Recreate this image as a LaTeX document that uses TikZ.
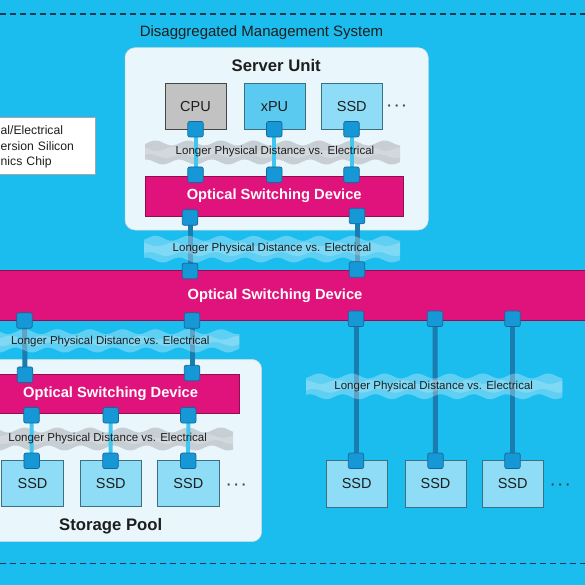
\documentclass[tikz,border=0pt]{standalone}
\usepackage{fontspec}
\setmainfont{Liberation Sans}
\pgfdeclarelayer{fg}
\pgfsetlayers{main,fg}
\definecolor{bgc}{HTML}{1BBCEE}
\definecolor{mag}{HTML}{E0127B}
\definecolor{portc}{HTML}{1798D6}
\definecolor{portd}{HTML}{16679A}
\definecolor{lightln}{HTML}{3FC7F1}
\definecolor{darkln}{HTML}{1A7DB0}
\definecolor{panelc}{HTML}{E9F6FC}
\definecolor{ssdc}{HTML}{8EDCF5}
\definecolor{xpuc}{HTML}{5BCAF0}
\definecolor{cpuc}{HTML}{C2C2C2}
\definecolor{boxd}{HTML}{3D6F82}
\definecolor{grayband}{HTML}{BCC3C7}
\definecolor{txt}{HTML}{1E1E1E}
\definecolor{dashc}{HTML}{1B3A52}
\newcommand\wband[6]{%
  \fill[#5,opacity=#6] plot[domain=#1:#2,samples=90,smooth] (\x,{#3+2.5*sin(11*\x)})
    -- plot[domain=#2:#1,samples=90,smooth] (\x,{#4+2.5*sin(11*\x+100)}) -- cycle;
  \fill[white,opacity=0.2] plot[domain=#1:#2,samples=90,smooth] (\x,{#3+6+2*sin(11*\x+160)})
    -- plot[domain=#2:#1,samples=90,smooth] (\x,{#4-6+2*sin(11*\x+60)}) -- cycle;}
\tikzset{
  port/.style={rectangle,rounded corners=2pt,minimum size=15.5pt,inner sep=0pt,fill=portc,draw=portd,line width=0.7pt},
  lln/.style={lightln,line width=4pt},
  dln/.style={darkln,line width=5pt},
  osd/.style={rectangle,fill=mag,draw=mag!65!black,line width=0.6pt,inner sep=0pt,text=white,font=\bfseries\fontsize{14.7}{16}\selectfont},
  unit/.style={rectangle,draw=boxd,line width=0.7pt,inner sep=0pt,minimum width=61pt,minimum height=46pt,text=txt,font=\fontsize{14.5}{16}\selectfont},
  bandtxt/.style={text=txt,font=\fontsize{11.5}{13}\selectfont,inner sep=0pt},
  panelbox/.style={rectangle,fill=panelc,draw=panelc!88!black,rounded corners=10pt,line width=0.5pt,inner sep=0pt},
  dotstxt/.style={text=txt!85,font=\bfseries\fontsize{13.5}{15}\selectfont,inner sep=0pt},
  titletxt/.style={text=txt,inner sep=0pt},
  dashline/.style={dashc,line width=1.2pt,dash pattern=on 6pt off 4pt}
}
\newcommand\threedots{·\hspace{3pt}·\hspace{3pt}·}
\begin{document}
\begin{tikzpicture}[x=1pt,y=-1pt]
\useasboundingbox (0,0) rectangle (585,585);
\clip (0,0) rectangle (585,585);
\fill[bgc] (0,0) rectangle (585,585);
\draw[dashline] (0,14) -- (585,14);
\draw[dashline] (0,563.3) -- (585,563.3);

\node[titletxt,font=\fontsize{15}{17}\selectfont] (title) at (261.5,33) {Disaggregated Management System};

% panels
\node[panelbox,minimum width=303.3pt,minimum height=182.3pt] (server) at (276.65,138.85) {};
\node[panelbox,minimum width=301.7pt,minimum height=182.4pt] (storage) at (110.85,450.5) {};
\node[titletxt,font=\bfseries\fontsize{16.7}{18}\selectfont] (serverlbl) at (276.2,66) {Server Unit};
\node[titletxt,font=\bfseries\fontsize{16.7}{18}\selectfont] (storagelbl) at (110.7,526) {Storage Pool};

% chip legend (cut by the left edge, as printed)
\node[rectangle,draw=gray!70,fill=white,line width=0.6pt,minimum width=130pt,minimum height=57pt,
      inner sep=0pt] (chip) at (30,145.5) {};
\node[anchor=west,text width=90pt,inner sep=0pt,align=left,text=txt,font=\fontsize{12.2}{15.5}\selectfont] (chiptxt) at (0.5,147)
      {al/Electrical\\ersion Silicon\\nics Chip};

% server devices
\node[unit,fill=cpuc,draw=gray!55!black] (cpu) at (195.5,106.3) {CPU};
\node[unit,fill=xpuc] (xpu) at (274.5,106.3) {xPU};
\node[unit,fill=ssdc] (ssd0) at (351.8,106.3) {SSD};
\node[dotstxt] (dots0) at (397,107.5) {\threedots};

% switching devices
\node[osd,minimum width=258.3pt,minimum height=40pt] (osd1) at (274.2,196) {Optical Switching Device};
\node[osd,minimum width=640pt,minimum height=50.7pt] (osd2) at (275,295.35) {Optical Switching Device};
\node[osd,minimum width=257.3pt,minimum height=39.3pt] (osd3) at (110.65,393.65) {Optical Switching Device};

% storage SSDs
\node[unit,fill=ssdc,minimum width=61.6pt,minimum height=46.7pt] (ssd1) at (32.5,483.3) {SSD};
\node[unit,fill=ssdc,minimum width=61.6pt,minimum height=46.7pt] (ssd2) at (110.8,483.3) {SSD};
\node[unit,fill=ssdc,minimum width=61.6pt,minimum height=46.7pt] (ssd3) at (188.4,483.3) {SSD};
\node[dotstxt] (dots1) at (236.7,486.5) {\threedots};
\node[unit,fill=ssdc,minimum width=61.3pt,minimum height=46.7pt] (ssd4) at (356.7,483.6) {SSD};
\node[unit,fill=ssdc,minimum width=61.3pt,minimum height=46.7pt] (ssd5) at (435.5,483.6) {SSD};
\node[unit,fill=ssdc,minimum width=61.3pt,minimum height=46.7pt] (ssd6) at (512.7,483.6) {SSD};
\node[dotstxt] (dots2) at (560.5,486.5) {\threedots};

% ports
\begin{pgfonlayer}{fg}
\node[port] (s1) at (195.5,129.2) {};
\node[port] (s2) at (274.3,129.2) {};
\node[port] (s3) at (351.5,129.2) {};
\node[port] (t1) at (195.5,174.7) {};
\node[port] (t2) at (274.3,174.7) {};
\node[port] (t3) at (351.5,174.7) {};
\node[port] (u1) at (190,217.5) {};
\node[port] (u2) at (357,216) {};
\node[port] (v1) at (190,271) {};
\node[port] (v2) at (357,269.5) {};
\node[port] (w1) at (24.5,320.5) {};
\node[port] (w2) at (192,320.5) {};
\node[port] (w3) at (356,318.8) {};
\node[port] (w4) at (435,318.8) {};
\node[port] (w5) at (512.5,318.8) {};
\node[port] (x1) at (25,374.7) {};
\node[port] (x2) at (192,373) {};
\node[port] (y1) at (31.5,415.3) {};
\node[port] (y2) at (110.8,415.3) {};
\node[port] (y3) at (188.3,415.3) {};
\node[port] (z1) at (31.7,460.8) {};
\node[port] (z2) at (110.5,460.8) {};
\node[port] (z3) at (188.2,460.8) {};
\node[port] (r1) at (356,460.8) {};
\node[port] (r2) at (435.5,460.8) {};
\node[port] (r3) at (512.5,460.8) {};
\end{pgfonlayer}

% wavy bands (behind the connectors)
\wband{145}{400}{143}{162}{grayband}{0.75}
\wband{-10}{233}{430}{448}{grayband}{0.75}

% connectors
\draw[lln] (s1.center) -- (t1.center);
\draw[lln] (s2.center) -- (t2.center);
\draw[lln] (s3.center) -- (t3.center);
\draw[lln] (y1.center) -- (z1.center);
\draw[lln] (y2.center) -- (z2.center);
\draw[lln] (y3.center) -- (z3.center);
\draw[dln] (u1.center) -- (v1.center);
\draw[dln] (u2.center) -- (v2.center);
\draw[dln] (w1.center) -- (x1.center);
\draw[dln] (w2.center) -- (x2.center);
\draw[dln] (w3.center) -- (r1.center);
\draw[dln] (w4.center) -- (r2.center);
\draw[dln] (w5.center) -- (r3.center);

% light bands over dark connectors
\wband{144}{400}{238.3}{260}{white}{0.3}
\wband{-10}{239.3}{331.7}{350}{white}{0.3}
\wband{306}{562.3}{376}{396.7}{white}{0.3}
\node[bandtxt] (d1) at (275,151.7) {Longer Physical Distance vs. Electrical};
\node[bandtxt] (d2) at (272,249) {Longer Physical Distance vs. Electrical};
\node[bandtxt] (d3) at (110.3,341.7) {Longer Physical Distance vs. Electrical};
\node[bandtxt] (d4) at (107.7,438.6) {Longer Physical Distance vs. Electrical};
\node[bandtxt] (d5) at (433.7,386.7) {Longer Physical Distance vs. Electrical};
\end{tikzpicture}
\end{document}
